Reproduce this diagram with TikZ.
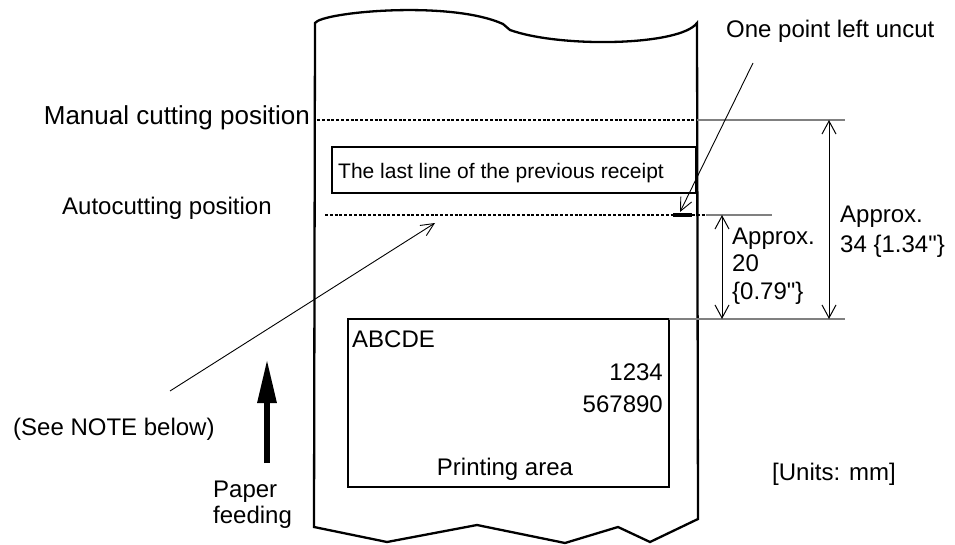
\documentclass[tikz,border=0pt]{standalone}
\usepackage{fontspec}
\setmainfont{Liberation Sans}[Ligatures=TeXOff]
\usetikzlibrary{arrows.meta}
\begin{document}
\begin{tikzpicture}[x=1pt,y=-1pt,
  lbl/.style={inner sep=0pt, font=\fontsize{24}{28}\selectfont},
  paperline/.style={line width=2.3pt, line join=miter},
  boxline/.style={line width=2.2pt},
  cutline/.style={line width=2.2pt, dash pattern=on 3pt off 1.8pt},
  extline/.style={line width=1.3pt, black!50},
  dimline/.style={line width=1pt, {Straight Barb[length=13pt,width=14pt]}-{Straight Barb[length=13pt,width=14pt]}},
  leader/.style={line width=0.9pt, -{Straight Barb[length=13pt,width=12pt]}},
  feedarrow/.style={line width=6pt, -{Triangle[length=44pt,width=18pt]}},
]
\useasboundingbox (0,0) rectangle (955,545);

% paper outline
\draw[paperline] (315,23) .. controls (322,12) and (450,0) .. (503,24)
  -- (510,30) .. controls (560,48) and (680,46) .. (697,23)
  -- (698,519) -- (650,542) -- (618,527) -- (565,543) -- (477,525)
  -- (387,542) -- (314,527) -- cycle;

% boxes
\draw[boxline] (332,147) rectangle (696,193);
\node[lbl, anchor=base west, font=\fontsize{21}{25}\selectfont] (lastline) at (338,179) {The last line of the previous receipt};
\draw[boxline] (348,319) rectangle (669,487);
\node[lbl, anchor=base west] (abcde) at (352,347) {ABCDE};
\node[lbl, anchor=base east] (n1234) at (663,380) {1234};
\node[lbl, anchor=base east] (n567890) at (663,412) {567890};
\node[lbl, anchor=base] (parea) at (505,475) {Printing area};

% cutting lines
\coordinate (mc1) at (317,120);
\coordinate (mc2) at (697,120);
\coordinate (mc3) at (845,120);
\draw[cutline] (mc1) -- (mc2);
\draw[extline] (mc2) -- (mc3);
\node[lbl, anchor=base east, font=\fontsize{26}{30}\selectfont] (manual) at (310,125) {Manual cutting position};

\coordinate (ac1) at (325,215);
\coordinate (ac2) at (673,215);
\coordinate (ac3) at (692,215);
\coordinate (ac4) at (706,215);
\coordinate (ac5) at (772,215);
\draw[cutline] (ac1) -- (ac2);
\draw[line width=4.5pt] (ac2) -- (ac3);
\draw[cutline] (ac3) -- (ac4);
\draw[extline] (ac4) -- (ac5);
\node[lbl, anchor=base west] (auto) at (62,215) {Autocutting position};

\coordinate (pb1) at (669,319);
\coordinate (pb2) at (845,319);
\draw[extline] (pb1) -- (pb2);

% dimensions
\coordinate (d34a) at (829,120);
\coordinate (d34b) at (829,319);
\draw[dimline] (d34a) -- (d34b);
\coordinate (d20a) at (722,215);
\coordinate (d20b) at (722,319);
\draw[dimline] (d20a) -- (d20b);
\node[lbl, anchor=base west] (ap20) at (732,245) {Approx.};
\node[lbl, anchor=base west] (v20) at (732,272) {20};
\node[lbl, anchor=base west] (i20) at (732,299) {\{0.79"\}};
\node[lbl, anchor=base west] (ap34) at (840,223) {Approx.};
\node[lbl, anchor=base west] (v34) at (840,252) {34 \{1.34"\}};

% leaders
\node[lbl, anchor=base west] (uncut) at (726,38) {One point left uncut};
\coordinate (ul1) at (753,63);
\coordinate (ul2) at (680,212);
\draw[leader] (ul1) -- (ul2);
\node[lbl, anchor=base west] (note) at (13,435) {(See NOTE below)};
\coordinate (nl1) at (170,391);
\coordinate (nl2) at (435,223);
\draw[leader] (nl1) -- (nl2);

% paper feeding
\coordinate (fa1) at (267,463);
\coordinate (fa2) at (267,359);
\draw[feedarrow] (fa1) -- (fa2);
\node[lbl, anchor=base west] (paper) at (213,497) {Paper};
\node[lbl, anchor=base west] (feeding) at (213,523) {feeding};

\node[lbl, anchor=base west] (units) at (772,480) {[Units: mm]};
\end{tikzpicture}
\end{document}
